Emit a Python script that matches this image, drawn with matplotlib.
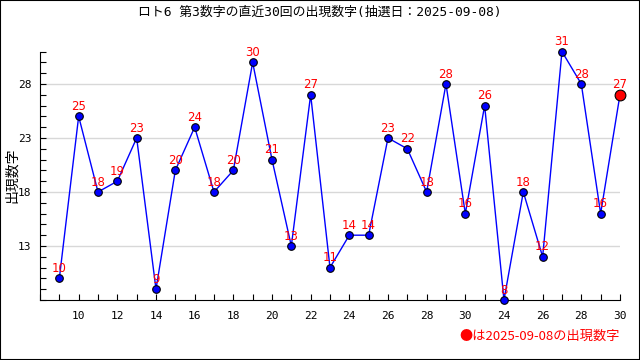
import matplotlib
matplotlib.use("Agg")
import matplotlib.pyplot as plt
from matplotlib.patches import Rectangle
from matplotlib.ticker import MultipleLocator, FixedLocator

plt.rcParams["font.family"] = ["Noto Sans CJK JP", "DejaVu Sans"]

# 直近30回の第3数字
values = [10, 25, 18, 19, 23, 9, 20, 24, 18, 20,
          30, 21, 13, 27, 11, 14, 14, 23, 22, 18,
          28, 16, 26, 8, 18, 12, 31, 28, 16, 27]
# x軸ラベル（2回ごと）
tick_pos = [2, 4, 6, 8, 10, 12, 14, 16, 18, 20, 22, 24, 26, 28, 30]
tick_labels = ["10", "12", "14", "16", "18", "20", "22", "24", "26",
               "28", "30", "24", "26", "28", "30"]
y_ticks = [13, 18, 23, 28]

title = "ロト6 第3数字の直近30回の出現数字(抽選日：2025-09-08)"
last_date = "2025-09-08"

fig = plt.figure(figsize=(6.4, 3.6), dpi=100)
fig.patches.append(Rectangle((0, 0), 1, 1, transform=fig.transFigure,
                             fill=False, edgecolor="black", linewidth=1.5))
ax = fig.add_axes([0.0625, 0.1667, 0.9062, 0.69])

x = list(range(1, len(values) + 1))
ax.plot(x, values, color="blue", linewidth=1, zorder=2, clip_on=False)
ax.scatter(x[:-1], values[:-1], s=30, color="blue", edgecolors="black",
           linewidths=0.8, zorder=3, clip_on=False)
ax.scatter(x[-1:], values[-1:], s=60, color="red", edgecolors="black",
           linewidths=0.8, zorder=4, clip_on=False)

for xi, v in zip(x, values):
    ax.annotate(str(v), (xi, v), xytext=(0, 2.5), textcoords="offset points",
                ha="center", va="bottom", color="red", fontsize=8.5,
                family="DejaVu Sans", zorder=5)

ax.set_xlim(0, len(values))
ax.set_ylim(8, 31)
ax.xaxis.set_major_locator(FixedLocator(tick_pos))
ax.xaxis.set_minor_locator(MultipleLocator(1))
ax.set_xticklabels(tick_labels, family="DejaVu Sans Mono", fontsize=8)
ax.yaxis.set_major_locator(FixedLocator(y_ticks))
ax.yaxis.set_minor_locator(MultipleLocator(1))
ax.set_yticklabels([str(t) for t in y_ticks], family="DejaVu Sans Mono",
                   fontsize=8)
ax.tick_params(which="both", direction="in", length=4, width=0.8)
ax.tick_params(axis="x", which="major", pad=8)
ax.tick_params(axis="y", which="major", pad=6)

ax.grid(axis="y", which="major", color="#d8d8d8", linewidth=1)
ax.set_axisbelow(True)
for side in ("top", "right"):
    ax.spines[side].set_visible(False)

fig.text(0.5, 0.965, title, ha="center", va="center", fontsize=9.3,
         family=["DejaVu Sans Mono", "Noto Sans CJK JP"])
fig.text(0.019, 0.514, "出現数字", rotation=90, ha="center", va="center",
         fontsize=10)
fig.text(0.968, 0.065, "●は" + last_date + "の出現数字", ha="right",
         va="center", color="red", fontsize=9.5,
         family=["Noto Sans CJK JP", "DejaVu Sans"])

fig.savefig("out.png", dpi=100)
